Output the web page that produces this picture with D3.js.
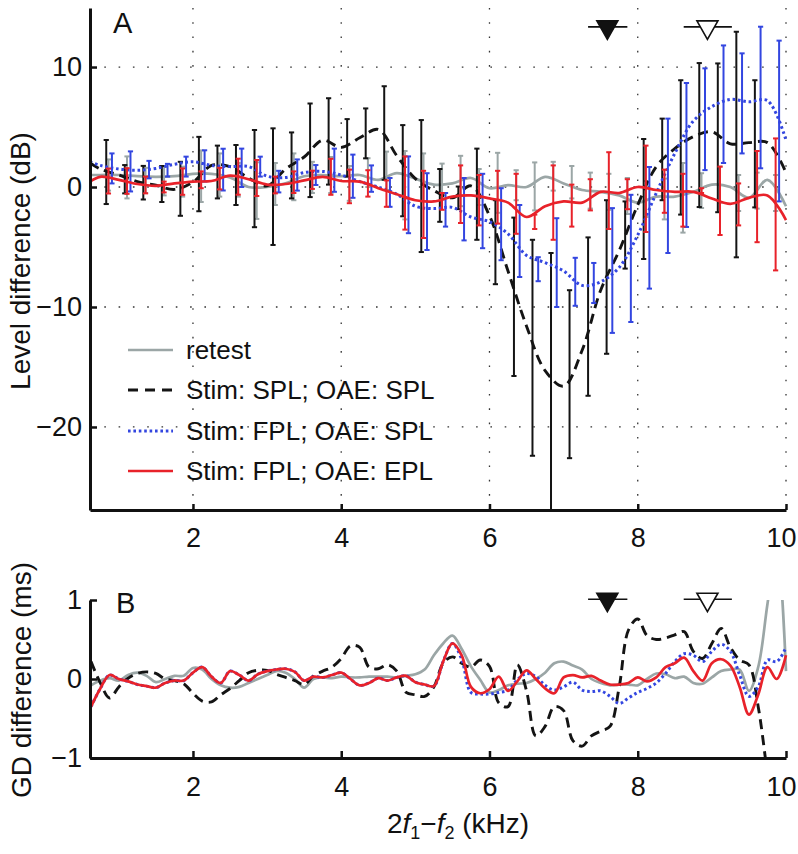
<!DOCTYPE html>
<html><head><meta charset="utf-8">
<script src="https://cdn.jsdelivr.net/npm/d3@7"></script>
<style>
html,body{margin:0;padding:0;background:#fff;}
svg{display:block;}
text{font-family:"Liberation Sans",Arial,sans-serif;fill:#111;}
</style></head><body>
<svg id="chart" width="798" height="854"></svg>
<script>
// ---------------- DATA ----------------
const xDomain = [0.611, 10];
const yDomainA = [-26.92, 14.92];
const yDomainB = [-1, 1];
const xTicks = [2, 4, 6, 8, 10];
const yTicksA = [10, 0, -10, -20];
const yTicksB = [-1, 0, 1];

// Panel A: smoothed level differences (dB) on this frequency grid (kHz)
const freqA = [0.61,0.75,1,1.25,1.5,1.75,2,2.25,2.5,2.75,3,3.25,3.5,3.75,4,4.25,4.5,4.75,5,5.25,5.5,5.75,6,6.25,6.5,6.75,7,7.25,7.5,7.75,8,8.25,8.5,8.75,9,9.25,9.5,9.75,10];
const retestA = [1.0,1.0,1.0,0.9,0.85,0.9,1.1,1.1,0.8,0.0,0.0,0.3,0.9,1.0,0.9,1.0,0.6,1.15,0.7,0.2,0.3,0.75,-0.1,0.15,0.0,0.85,0.3,-0.25,-0.4,-0.7,-1.3,-0.8,-0.8,-0.4,0.2,0.0,-0.9,0.6,-1.6];
const splSplA = [2.0,1.5,1.0,0.45,0.15,-0.2,0.4,1.8,1.7,0.75,0.1,1.5,2.5,3.9,3.3,4.1,4.8,2.6,0.7,-0.3,-0.9,0.1,-2.4,-7.0,-11.6,-15.3,-16.6,-13.6,-8.6,-5.3,-1.5,1.7,3.2,4.2,4.6,3.6,3.7,3.7,1.2];
const fplSplA = [2.1,1.8,1.5,1.4,1.55,1.9,2.1,1.8,1.7,1.7,0.9,0.8,1.2,1.3,1.0,0.45,0.0,-0.6,-1.6,-1.8,-1.7,-2.5,-2.9,-3.9,-5.7,-6.3,-7.0,-8.2,-7.9,-6.7,-4.0,-0.5,2.8,5.5,6.7,7.3,7.1,7.2,3.9];
const fplEplA = [0.45,0.85,0.6,0.25,0.1,0.3,0.45,0.5,0.95,0.65,0.2,0.25,0.55,0.85,0.5,0.45,-0.1,-0.6,-1.1,-1.2,-0.8,-0.7,-0.95,-1.3,-2.5,-1.6,-1.2,-1.3,-0.4,-0.5,0.0,-0.25,-0.4,-0.4,-0.95,-1.4,-0.9,-0.7,-2.75];

// Panel A error bars: base frequencies (kHz) and per-series frequency offsets
const errFreqA = [0.83,1.08,1.33,1.58,1.83,2.08,2.33,2.58,2.83,3.08,3.33,3.58,3.83,4.08,4.33,4.58,4.83,5.08,5.33,5.58,5.83,6.08,6.33,6.58,6.83,7.08,7.33,7.58,7.83,8.08,8.33,8.58,8.83,9.08,9.33,9.58,9.83];
const errOffset = {retest: 0.03, splSpl: 0, fplSpl: 0.077, fplEpl: 0.03};
const retestBarMean = [1.0,0.8,0.55,0.5,0.45,0.9,1.0,0.6,-0.3,0.25,0.85,0.8,1.0,0.3,1.2,1.35,0.15,0.8,0.45,0.5,0.0,0.35,0.15,0.05,0.9,0.4,-0.3,-0.4,-0.75,-1.0,-1.0,-0.9,-0.3,0.2,-0.5,-0.3,-0.5];
const retestBarErr  = [1.3,1.75,1.05,1.2,1.25,2.15,1.8,1.4,2.36,1.75,1.95,1.3,1.5,1.45,1.2,1.6,2.85,2.0,1.5,2.1,1.5,2.5,1.25,2.0,1.2,1.35,1.5,1.5,1.5,1.5,1.7,2.9,1.45,1.5,1.5,1.5,1.5];
const splSplBarMean = [1.25,0.65,0.36,0.25,-0.15,1.08,1.25,1.0,0.7,0.03,1.8,3.06,3.8,3.26,4.47,4.5,1.36,0.08,-0.7,-0.9,-0.6,-4.6,-9.15,-13.4,-16.5,-15.6,-10.8,-7.5,-4.0,-1.0,2.3,3.3,4.33,4.1,3.54,3.6,null];
const splSplBarErr  = [2.67,1.18,1.4,1.5,2.25,3.1,2.2,2.5,4.05,4.86,2.75,3.9,3.6,2.4,2.08,3.9,3.8,5.5,2.2,0.94,3.8,3.5,6.6,9.0,11.0,7.0,6.6,6.4,2.8,5.0,3.4,5.6,6.0,6.2,9.4,5.3,null];
const fplSplBarMean = [1.55,1.3,1.45,1.4,1.7,1.76,1.45,1.6,1.7,0.45,1.0,1.0,1.4,0.9,0.7,-0.45,-0.65,-2.05,-1.9,-1.85,-2.0,-3.1,-4.5,-6.85,-6.3,-7.9,-8.0,-6.96,-5.95,-3.4,0.1,2.67,5.65,6.9,6.97,7.46,5.5];
const fplSplBarErr  = [1.25,1.67,0.73,0.53,0.83,1.3,1.74,1.6,0.83,0.9,1.3,0.83,1.8,1.8,1.1,1.2,3.2,3.2,1.4,2.6,3.1,3.0,3.0,1.0,3.7,2.0,1.67,5.2,5.3,5.07,5.6,6.0,4.24,4.9,4.17,5.9,6.7];
const fplEplBarMean = [0.5,0.5,0.17,0.0,0.45,0.6,0.7,0.86,0.75,0.17,0.4,0.6,0.85,0.05,0.3,-0.55,-0.5,-1.45,-1.2,-0.6,-1.1,-0.85,-1.4,-2.9,-1.3,-1.55,-0.65,-0.3,-0.6,-0.15,-0.35,-1.1,-0.3,-1.15,-1.45,-0.8,-1.45];
const fplEplBarErr  = [1.04,1.07,0.7,0.45,1.1,0.7,0.9,1.5,1.5,0.7,0.9,0.76,1.5,1.4,1.1,1.1,3.05,2.8,0.7,2.4,2.1,2.2,2.5,0.6,3.1,1.75,1.3,3.2,1.25,3.6,1.8,2.2,0.2,2.85,1.75,3.8,5.5];

// Panel B: group-delay differences (ms)
const freqB = [0.625,0.75,0.875,1,1.125,1.25,1.375,1.5,1.625,1.75,1.875,2,2.125,2.25,2.375,2.5,2.625,2.75,2.875,3,3.125,3.25,3.375,3.5,3.625,3.75,3.875,4,4.125,4.25,4.375,4.5,4.625,4.75,4.875,5,5.125,5.25,5.375,5.5,5.625,5.75,5.875,6,6.125,6.25,6.375,6.5,6.625,6.75,6.875,7,7.125,7.25,7.375,7.5,7.625,7.75,7.875,8,8.125,8.25,8.375,8.5,8.625,8.75,8.875,9,9.125,9.25,9.375,9.5,9.625,9.75,9.875,10];
const retestB = [-0.08,-0.02,0.01,-0.02,0.05,0.08,0.04,-0.04,0.0,0.04,0.04,0.14,0.12,0.0,-0.08,-0.11,-0.1,-0.05,0.0,0.05,0.1,0.08,0.0,-0.11,0.0,0.02,0.01,0.03,0.02,0.02,0.03,0.03,0.03,0.02,0.04,0.06,0.12,0.3,0.45,0.55,0.38,0.16,-0.01,-0.17,-0.14,-0.08,-0.06,-0.05,0.0,0.08,0.2,0.22,0.17,0.12,0.0,-0.05,-0.08,-0.07,-0.07,-0.08,0.0,0.07,0.06,0.01,0.03,-0.05,-0.06,0.02,0.1,0.12,0.12,-0.15,0.15,0.95,1.7,0.1];
const splSplB = [0.22,-0.05,-0.24,-0.1,0.01,0.07,0.09,0.07,0.0,-0.02,-0.06,-0.18,-0.28,-0.29,-0.2,-0.12,-0.02,0.08,0.11,0.11,0.06,0.02,-0.02,-0.07,0.04,0.1,0.15,0.26,0.42,0.4,0.15,0.13,0.18,0.1,-0.17,-0.2,-0.22,-0.1,0.2,0.28,0.2,0.15,0.24,0.16,-0.3,-0.35,0.18,-0.15,-0.72,-0.6,-0.35,-0.4,-0.78,-0.85,-0.72,-0.66,-0.6,-0.1,0.62,0.76,0.55,0.5,0.52,0.56,0.6,0.35,0.26,0.45,0.64,0.4,0.24,0.18,-0.35,-1.2,-2.0,-2.5];
const fplSplB = [-0.35,-0.12,0.05,0.0,-0.03,-0.07,-0.09,-0.11,-0.05,-0.02,-0.02,0.08,0.15,0.03,-0.05,0.1,0.05,-0.02,0.06,0.1,0.12,0.13,0.09,-0.02,0.03,0.02,0.05,0.08,0.0,-0.08,-0.05,0.01,-0.02,0.02,0.04,-0.04,-0.07,-0.09,0.22,0.45,0.25,-0.17,-0.19,-0.19,-0.17,-0.14,-0.01,0.07,0.03,-0.08,-0.14,-0.1,-0.04,-0.14,-0.16,-0.15,-0.22,-0.31,-0.24,-0.17,-0.12,-0.05,0.07,0.22,0.32,0.3,0.22,0.35,0.44,0.35,0.05,-0.22,-0.1,0.24,0.22,0.4];
const fplEplB = [-0.35,-0.12,0.05,0.0,-0.03,-0.07,-0.09,-0.11,-0.05,-0.02,-0.02,0.08,0.15,0.03,-0.05,0.1,0.05,-0.02,0.06,0.1,0.12,0.13,0.09,-0.02,0.03,0.02,0.05,0.08,0.0,-0.08,-0.05,0.01,-0.02,0.02,0.04,-0.04,-0.07,-0.09,0.22,0.45,0.3,-0.1,-0.18,-0.13,0.03,-0.15,-0.03,0.11,0.0,-0.12,-0.18,0.02,0.05,0.02,0.04,-0.02,-0.07,-0.07,-0.05,0.02,-0.03,0.02,0.15,0.2,0.27,0.1,-0.02,0.2,0.25,0.17,-0.1,-0.45,-0.2,0.15,0.0,0.3];

// Frequency markers (kHz): triangle position and horizontal range
const markerFreq = [7.59, 8.94];
const markerLo = [7.33, 8.62];
const markerHi = [7.86, 9.27];
const markerFilled = [true, false];
const markerLevelA = 13.35; // dB
const markerLevelB = 1.01;  // ms

const legendLabels = ["retest", "Stim: SPL; OAE: SPL", "Stim: FPL; OAE: SPL", "Stim: FPL; OAE: EPL"];

// ---------------- STYLES ----------------
const COL = {retest: "#9ba6a6", splSpl: "#141414", fplSpl: "#3346e0", fplEpl: "#e8222a"};
const STY = {
  retest: {stroke: COL.retest, width: 2.7, dash: null},
  splSpl: {stroke: COL.splSpl, width: 2.9, dash: "10,6"},
  fplSpl: {stroke: COL.fplSpl, width: 3, dash: "2.6,2.8"},
  fplEpl: {stroke: COL.fplEpl, width: 2.7, dash: null}
};

// ---------------- DRAW ----------------
const svg = d3.select("#chart");
const FONT = '"Liberation Sans", Arial, sans-serif';
const x = d3.scaleLinear().domain(xDomain).range([90, 786]);
const yA = d3.scaleLinear().domain(yDomainA).range([510, 8]);
const yB = d3.scaleLinear().domain(yDomainB).range([758, 600]);

const defs = svg.append("defs");
defs.append("clipPath").attr("id", "clipA").append("rect")
  .attr("x", x.range()[0]).attr("y", yA.range()[1]).attr("width", x.range()[1] - x.range()[0] + 4).attr("height", yA.range()[0] - yA.range()[1]);
defs.append("clipPath").attr("id", "clipB").append("rect")
  .attr("x", x.range()[0]).attr("y", yB.range()[1]).attr("width", x.range()[1] - x.range()[0] + 4).attr("height", yB.range()[0] - yB.range()[1]);

// grid (panel A only)
const grid = svg.append("g").attr("stroke", "#333").attr("stroke-width", 1.3).attr("stroke-dasharray", "1.6,12.7");
xTicks.forEach(t => grid.append("line").attr("x1", x(t)).attr("x2", x(t)).attr("y1", yA.range()[0]).attr("y2", yA.range()[1]));
yTicksA.forEach(t => grid.append("line").attr("x1", x.range()[0]).attr("x2", x.range()[1]).attr("y1", yA(t)).attr("y2", yA(t)));

function lineGen(y) {
  return d3.line().x(d => x(d[0])).y(d => y(d[1])).curve(d3.curveCatmullRom.alpha(0.5));
}
function drawLine(g, freq, vals, y, s) {
  const data = freq.map((f, i) => [f, vals[i]]);
  g.append("path").attr("d", lineGen(y)(data)).attr("fill", "none")
    .attr("stroke", s.stroke).attr("stroke-width", s.width)
    .attr("stroke-dasharray", s.dash).attr("stroke-linejoin", "round");
}
function drawBars(g, freqs, off, means, errs, y, color) {
  const bg = g.append("g").attr("stroke", color).attr("stroke-width", 2);
  freqs.forEach((f, i) => {
    if (means[i] == null) return;
    const cx = x(f + off), y1 = y(means[i] - errs[i]), y2 = y(means[i] + errs[i]);
    bg.append("line").attr("x1", cx).attr("x2", cx).attr("y1", y1).attr("y2", y2);
    bg.append("line").attr("x1", cx - 2.6).attr("x2", cx + 2.6).attr("y1", y1).attr("y2", y1);
    bg.append("line").attr("x1", cx - 2.6).attr("x2", cx + 2.6).attr("y1", y2).attr("y2", y2);
  });
}

const gA = svg.append("g").attr("clip-path", "url(#clipA)");
drawBars(gA, errFreqA, errOffset.retest, retestBarMean, retestBarErr, yA, COL.retest);
drawLine(gA, freqA, retestA, yA, STY.retest);
drawBars(gA, errFreqA, errOffset.splSpl, splSplBarMean, splSplBarErr, yA, COL.splSpl);
drawLine(gA, freqA, splSplA, yA, STY.splSpl);
drawBars(gA, errFreqA, errOffset.fplSpl, fplSplBarMean, fplSplBarErr, yA, COL.fplSpl);
drawLine(gA, freqA, fplSplA, yA, STY.fplSpl);
drawBars(gA, errFreqA, errOffset.fplEpl, fplEplBarMean, fplEplBarErr, yA, COL.fplEpl);
drawLine(gA, freqA, fplEplA, yA, STY.fplEpl);

const gB = svg.append("g").attr("clip-path", "url(#clipB)");
drawLine(gB, freqB, retestB, yB, STY.retest);
drawLine(gB, freqB, splSplB, yB, STY.splSpl);
drawLine(gB, freqB, fplSplB, yB, STY.fplSpl);
drawLine(gB, freqB, fplEplB, yB, STY.fplEpl);

// axes
function styleAxis(g) {
  g.select(".domain").attr("stroke", "#111").attr("stroke-width", 3);
  g.selectAll(".tick line").attr("stroke", "#111").attr("stroke-width", 2.5);
  g.selectAll("text").attr("font-family", FONT).attr("font-size", 27).attr("fill", "#111");
}
function fixLastLabel(g) {
  // keep the "10" label inside the picture, as in the reference
  g.selectAll(".tick").filter(d => d === xTicks[xTicks.length - 1]).select("text").attr("dx", -5);
}
const axA_x = svg.append("g").attr("transform", `translate(0,${yA.range()[0]})`)
  .call(d3.axisBottom(x).tickValues(xTicks).tickSizeInner(-6).tickSizeOuter(0).tickFormat(d3.format("d")));
styleAxis(axA_x); axA_x.selectAll("text").attr("y", 37).attr("dy", 0); fixLastLabel(axA_x);
const axA_y = svg.append("g").attr("transform", `translate(${x.range()[0]},0)`)
  .call(d3.axisLeft(yA).tickValues(yTicksA).tickSizeInner(-7).tickSizeOuter(0).tickPadding(8).tickFormat(d => d < 0 ? "\u2212" + Math.abs(d) : d));
styleAxis(axA_y);
const axB_x = svg.append("g").attr("transform", `translate(0,${yB.range()[0]})`)
  .call(d3.axisBottom(x).tickValues(xTicks).tickSizeInner(-7).tickSizeOuter(0).tickFormat(d3.format("d")));
styleAxis(axB_x); axB_x.selectAll("text").attr("y", 38).attr("dy", 0); fixLastLabel(axB_x);
const axB_y = svg.append("g").attr("transform", `translate(${x.range()[0]},0)`)
  .call(d3.axisLeft(yB).tickValues(yTicksB).tickSizeInner(-7).tickSizeOuter(0).tickPadding(8).tickFormat(d => d < 0 ? "\u2212" + Math.abs(d) : d));
styleAxis(axB_y);

// markers
function drawMarkers(y, level) {
  const g = svg.append("g");
  markerFreq.forEach((f, i) => {
    const cy = y(level);
    g.append("line").attr("x1", x(markerLo[i])).attr("x2", x(markerHi[i])).attr("y1", cy).attr("y2", cy)
      .attr("stroke", "#111").attr("stroke-width", 1.6);
    const cx = x(f);
    g.append("path").attr("d", `M${cx - 10.5},${cy - 6}L${cx + 10.5},${cy - 6}L${cx},${cy + 12.5}Z`)
      .attr("fill", markerFilled[i] ? "#111" : "#fff").attr("stroke", "#111").attr("stroke-width", 1.6)
      .attr("stroke-linejoin", "miter");
  });
}
drawMarkers(yA, markerLevelA);
drawMarkers(yB, markerLevelB);

// panel letters
svg.append("text").attr("x", 113).attr("y", 33).attr("font-size", 29).text("A");
svg.append("text").attr("x", 116).attr("y", 613).attr("font-size", 29).text("B");

// axis titles
svg.append("text").attr("transform", "translate(30,261) rotate(-90)").attr("text-anchor", "middle")
  .attr("font-size", 28).text("Level difference (dB)");
svg.append("text").attr("transform", "translate(31,680) rotate(-90)").attr("text-anchor", "middle")
  .attr("font-size", 28).text("GD difference (ms)");
const xt = svg.append("text").attr("x", 458).attr("y", 833).attr("text-anchor", "middle").attr("font-size", 28);
xt.append("tspan").text("2");
xt.append("tspan").attr("font-style", "italic").text("f");
xt.append("tspan").attr("font-size", 18).attr("dy", 6).text("1");
xt.append("tspan").attr("dy", -6).text("\u2212");
xt.append("tspan").attr("font-style", "italic").text("f");
xt.append("tspan").attr("font-size", 18).attr("dy", 6).text("2");
xt.append("tspan").attr("dy", -6).text(" (kHz)");

// legend
const legKeys = ["retest", "splSpl", "fplSpl", "fplEpl"];
const legRowY = [350, 390, 431, 471];
const leg = svg.append("g");
legKeys.forEach((k, i) => {
  const s = STY[k];
  leg.append("line").attr("x1", 128).attr("x2", 173).attr("y1", legRowY[i]).attr("y2", legRowY[i])
    .attr("stroke", s.stroke).attr("stroke-width", s.width).attr("stroke-dasharray", k === "splSpl" ? "10,7" : s.dash);
  leg.append("text").attr("x", 186).attr("y", legRowY[i] + 9).attr("font-size", 26).text(legendLabels[i]);
});
</script></body></html>
